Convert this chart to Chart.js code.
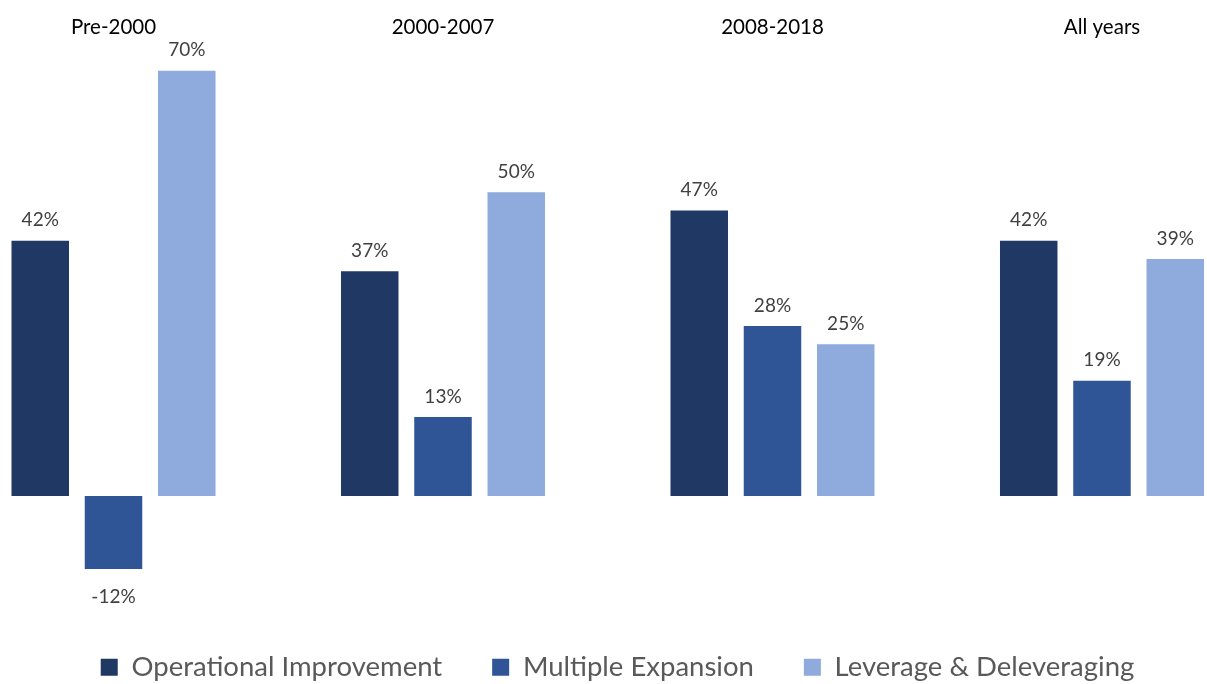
<!DOCTYPE html>
<html>
<head>
<meta charset="utf-8">
<script src="https://cdn.jsdelivr.net/npm/chart.js@4.4.1/dist/chart.umd.min.js"></script>
<style>
  html, body { margin: 0; padding: 0; background: #ffffff; }
  #wrap { width: 1207px; height: 684px; position: relative; }
</style>
</head>
<body>
<div id="wrap"><canvas id="c"></canvas></div>
<script>
const categories = ['Pre-2000', '2000-2007', '2008-2018', 'All years'];
const seriesNames = ['Operational Improvement', 'Multiple Expansion', 'Leverage & Deleveraging'];
const operational = [42, 37, 47, 42];
const multiple = [-12, 13, 28, 19];
const leverage = [70, 50, 25, 39];
const colors = ['#203864', '#2F5597', '#8FAADC'];

const FONT = 'Lato, "Liberation Sans", sans-serif';

const valueLabels = {
  id: 'valueLabels',
  afterDatasetsDraw(chart) {
    const ctx = chart.ctx;
    ctx.save();
    ctx.font = '19px ' + FONT;
    ctx.fillStyle = '#404040';
    ctx.textAlign = 'center';
    chart.data.datasets.forEach((ds, di) => {
      const meta = chart.getDatasetMeta(di);
      meta.data.forEach((bar, i) => {
        const v = ds.data[i].y;
        if (v >= 0) {
          ctx.textBaseline = 'bottom';
          ctx.fillText(v + '%', bar.x, bar.y - 11);
        } else {
          ctx.textBaseline = 'top';
          ctx.fillText(v + '%', bar.x, bar.y + 18);
        }
      });
    });
    ctx.restore();
  }
};

const allSeries = [operational, multiple, leverage];
const datasets = allSeries.map((vals, k) => ({
  label: seriesNames[k],
  data: vals.map((v, i) => ({ x: i, y: v })),
  backgroundColor: colors[k],
  borderWidth: 0,
  clip: false,
  categoryPercentage: 0.667,
  barPercentage: 0.785
}));

new Chart(document.getElementById('c'), {
  type: 'bar',
  data: { datasets },
  plugins: [valueLabels],
  options: {
    responsive: true,
    maintainAspectRatio: false,
    animation: false,
    layout: { padding: { left: 28, right: 0, top: 11, bottom: -7 } },
    scales: {
      x: {
        type: 'linear',
        position: 'top',
        offset: false,
        min: -0.2595,
        max: 3.3187,
        grid: { display: false, drawTicks: false, offset: false },
        border: { display: false },
        ticks: {
          stepSize: 1,
          includeBounds: false,
          autoSkip: false,
          maxRotation: 0,
          padding: 4,
          color: '#000000',
          font: { family: FONT, size: 20.5 },
          callback: (v) => Number.isInteger(v) && categories[v] !== undefined ? categories[v] : ''
        }
      },
      y: {
        display: false,
        min: -17.67,
        max: 74.46
      }
    },
    plugins: {
      legend: {
        position: 'bottom',
        labels: {
          boxWidth: 17,
          boxHeight: 17,
          padding: 50,
          color: '#595959',
          font: { family: FONT, size: 27.5 }
        }
      },
      tooltip: { enabled: false }
    }
  }
});
</script>
</body>
</html>
